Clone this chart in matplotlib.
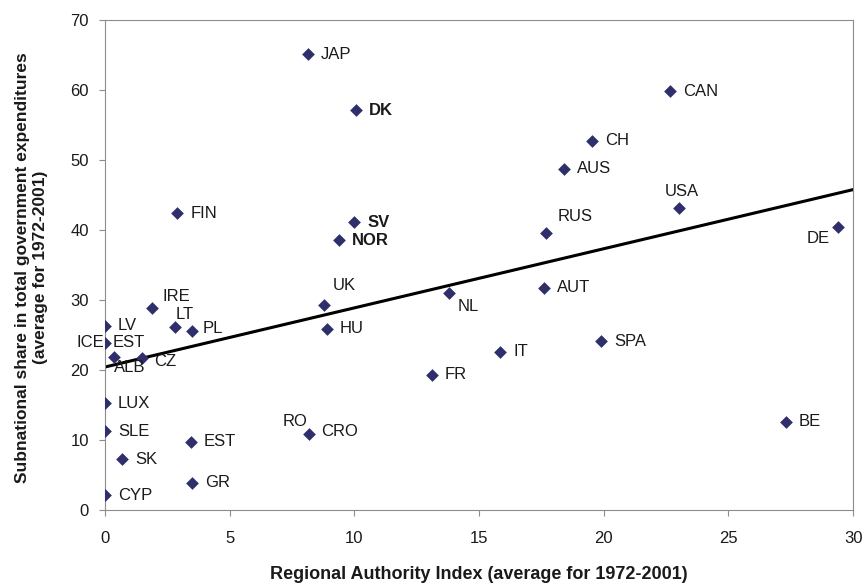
import numpy as np
import matplotlib.pyplot as plt

plt.rcParams['font.family'] = ['Liberation Sans', 'DejaVu Sans']

# --- datos ---
paises = ['JAP', 'DK', 'CAN', 'CH', 'AUS', 'USA', 'RUS', 'DE', 'FIN', 'SV',
          'NOR', 'UK', 'HU', 'NL', 'AUT', 'SPA', 'IT', 'FR', 'BE', 'CRO',
          'IRE', 'LT', 'PL', 'LV', 'EST', 'ALB', 'CZ', 'LUX', 'SLE', 'SK',
          'EST', 'GR', 'CYP']
rai = [8.15, 10.05, 22.65, 19.55, 18.4, 23.0, 17.7, 29.4, 2.9, 10.0,
       9.4, 8.8, 8.9, 13.8, 17.6, 19.9, 15.85, 13.1, 27.3, 8.2,
       1.9, 2.8, 3.5, 0.0, 0.0, 0.35, 1.5, 0.0, 0.0, 0.7,
       3.45, 3.5, 0.0]
gasto = [65.1, 57.1, 59.8, 52.7, 48.7, 43.1, 39.6, 40.4, 42.4, 41.1,
         38.5, 29.3, 25.9, 31.0, 31.7, 24.1, 22.6, 19.3, 12.6, 10.9,
         28.8, 26.1, 25.5, 26.3, 23.9, 21.9, 21.7, 15.2, 11.2, 7.2,
         9.7, 3.9, 2.1]
# etiquetas sin marcador propio (ICE y RO comparten punto con EST y CRO)
extra = [('ICE', 0.0, 23.9), ('RO', 8.2, 10.9)]

# recta de tendencia
intercepto = 20.4
pendiente = 0.845

negrita = {'DK', 'SV', 'NOR'}

# desplazamientos de etiquetas en pixeles (dx, dy, ha)
desp = {
    'USA': (3, 17, 'center'),
    'RUS': (11, 16, 'left'),
    'DE': (-8, -11, 'right'),
    'UK': (8, 19, 'left'),
    'NL': (9, -14, 'left'),
    'IRE': (10, 12, 'left'),
    'LT': (1, 13, 'left'),
    'PL': (10, 3, 'left'),
    'ALB': (0, -11, 'left'),
    'CZ': (12, -4, 'left'),
    'CRO': (12, 2, 'left'),
    'ICE': (-1, 0, 'right'),
    'RO': (-2, 12, 'right'),
}

fig = plt.figure(figsize=(8.67, 5.84), dpi=100)
ax = fig.add_axes([0.121, 0.127, 0.863, 0.839])

ax.scatter(rai, gasto, marker='D', s=42, color='#2f2f6b', zorder=3, linewidths=0)

xs = np.array([0, 30])
ax.plot(xs, intercepto + pendiente * xs, color='black', linewidth=2.2, zorder=2)

etiquetas = list(zip(paises, rai, gasto)) + extra
for nom, x, y in etiquetas:
    if nom == 'EST' and y > 20:
        dx, dy, ha = (8, 0, 'left')
    else:
        dx, dy, ha = desp.get(nom, (13, 0, 'left'))
    ax.annotate(nom, (x, y), xytext=(dx, dy), textcoords='offset pixels',
                ha=ha, va='center', fontsize=12, color='#1a1a1a',
                fontweight='bold' if nom in negrita else 'normal')

ax.set_xlim(0, 30)
ax.set_ylim(0, 70)
ax.set_xticks(range(0, 31, 5))
ax.set_yticks(range(0, 71, 10))
for s in ax.spines.values():
    s.set_color('#8c8c8c')
ax.tick_params(colors='#8c8c8c', labelcolor='#1a1a1a', labelsize=12,
               direction='out', length=4.5)
ax.tick_params(axis='x', pad=11)
ax.tick_params(axis='y', pad=7)

ax.set_xlabel('Regional Authority Index (average for 1972-2001)',
              fontsize=13, fontweight='bold', color='#1a1a1a', labelpad=14)
ax.set_ylabel('Subnational share in total government expenditures\n(average for 1972-2001)',
              fontsize=12.5, fontweight='bold', color='#1a1a1a',
              linespacing=1.25)
ax.yaxis.set_label_coords(-0.076, 0.495)

fig.savefig('out.png', dpi=100)
